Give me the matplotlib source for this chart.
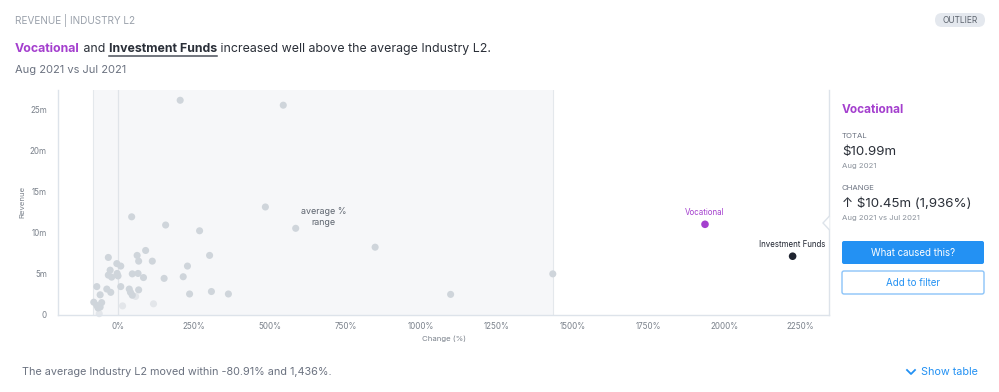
import matplotlib
matplotlib.use('Agg')
from matplotlib import pyplot as plt
from matplotlib.patches import FancyBboxPatch, Polygon

plt.rcParams['font.family'] = ['Inter', 'DejaVu Sans']

# industries inside the average range (change %, revenue in m)
change_pct = [205, 545, 486, 586, 45, 157, 269, 91, 63, 302, -32, -4, 9, 68, 113, 229,
              -26, -32, -21, -3, 0, 47, 66, 84, 152, 215, -70, -37, -24, 9, 37, 41, 47,
              68, -59, 236, 308, 364, -80, -70, -59, -54, -66, 848, 1097, 1434]
revenue_m = [26.1, 25.5, 13.1, 10.5, 11.9, 10.9, 10.2, 7.8, 7.2, 7.2, 6.95, 6.2, 5.9, 6.5, 6.5, 5.9,
             5.4, 4.8, 4.55, 5.0, 4.7, 4.95, 5.0, 4.5, 4.4, 4.6, 3.4, 3.1, 2.7, 3.4, 3.1, 2.7, 2.35,
             3.0, 2.4, 2.5, 2.8, 2.5, 1.5, 1.1, 0.9, 1.45, 0.8, 8.2, 2.45, 4.95]
# fainter points
faded_pct = [58, 15, 117, -62]
faded_rev = [2.2, 1.05, 1.3, 0.1]

# outliers
outlier_names = ['Vocational', 'Investment Funds']
outlier_pct = [1936, 2225]
outlier_rev = [10.99, 7.1]
outlier_colors = ['#a43fce', '#1f2430']

avg_low = -80.91
avg_high = 1436

x_ticks = [0, 250, 500, 750, 1000, 1250, 1500, 1750, 2000, 2250]
y_ticks = [0, 5, 10, 15, 20, 25]
y_labels = ['0', '5m', '10m', '15m', '20m', '25m']

W, H = 999, 392
fig = plt.figure(figsize=(W / 100, H / 100), dpi=100)

def fx(px):
    return px / W

def fy(py):
    return 1 - py / H

ax = fig.add_axes([fx(58), fy(314.5), fx(829) - fx(58), fy(90) - fy(314.5)])
ax.set_xlim(-198, 2345)
ax.set_ylim(0, 27.35)

ax.axvspan(avg_low, avg_high, facecolor='#f6f7f9', edgecolor='none', zorder=0)
ax.axvline(avg_low, color='#e4e8ec', lw=0.8, zorder=1)
ax.axvline(avg_high, color='#e4e8ec', lw=0.8, zorder=1)
ax.axvline(0, color='#e0e4e9', lw=0.9, zorder=1)

ax.scatter(change_pct, revenue_m, s=26, color='#cfd5db', edgecolors='none', zorder=3, clip_on=False)
ax.scatter(faded_pct, faded_rev, s=26, color='#e3e6ea', edgecolors='none', zorder=2, clip_on=False)
for name, x, y, c in zip(outlier_names, outlier_pct, outlier_rev, outlier_colors):
    ax.scatter([x], [y], s=30, color=c, edgecolors='none', zorder=4)
    ax.annotate(name, (x, y), xytext=(0, 5), textcoords='offset points', ha='center',
                va='bottom', fontsize=5.7, color=c)

ax.text((avg_low + avg_high) / 2, 11.9, 'average %\nrange', ha='center', va='center',
        fontsize=6.4, color='#5f6670', linespacing=1.35)

ax.spines['top'].set_visible(False)
for s in ['left', 'bottom', 'right']:
    ax.spines[s].set_color('#dde3ea')
    ax.spines[s].set_linewidth(1)

ax.set_xticks(x_ticks)
ax.set_xticklabels([f'{t}%' for t in x_ticks])
ax.set_yticks(y_ticks)
ax.set_yticklabels(y_labels)
ax.tick_params(length=0, labelsize=5.8, colors='#7a818b')
ax.tick_params(axis='x', pad=5.5)
ax.tick_params(axis='y', pad=8)
ax.set_xlabel('Change (%)', fontsize=5.6, color='#7a818b', labelpad=3.5)
ax.set_ylabel('Revenue', fontsize=5.6, color='#7a818b', labelpad=3.5)

# overlay in pixel coordinates for the surrounding card
ov = fig.add_axes([0, 0, 1, 1], zorder=5)
ov.set_xlim(0, W)
ov.set_ylim(H, 0)
ov.axis('off')
ov.patch.set_alpha(0)

# tooltip caret on the panel border
ov.add_patch(Polygon([[829.5, 216], [823, 223], [829.5, 230]], closed=False,
                     facecolor='white', edgecolor='#dde3ea', lw=1))

# header
ov.text(15, 20, 'REVENUE | INDUSTRY L2', fontsize=7.2, color='#9aa1ab', va='center')
fig.canvas.draw()
renderer = fig.canvas.get_renderer()
x = 15
parts = [('Vocational', 'bold', '#a43fce'), (' and ', 'normal', '#2a2f38'),
         ('Investment Funds', 'bold', '#2a2f38'),
         (' increased well above the average Industry L2.', 'normal', '#2a2f38')]
for txt, wt, c in parts:
    t = ov.text(x, 52, txt, fontsize=8.9, fontweight=wt, color=c, va='baseline')
    bb = t.get_window_extent(renderer)
    if txt == 'Investment Funds':
        ov.plot([x, x + bb.width], [55.5, 55.5], color='#4a505a', lw=1.1)
    x += bb.width
ov.text(15, 70, 'Aug 2021 vs Jul 2021', fontsize=8, color='#6b7280', va='center')

ov.add_patch(FancyBboxPatch((935, 13), 50, 14, boxstyle='round,pad=0,rounding_size=7',
                            facecolor='#e4e8ee', edgecolor='none'))
ov.text(960, 20.5, 'OUTLIER', fontsize=6, color='#5b626c', ha='center', va='center')

# side panel
ov.text(842, 110, 'Vocational', fontsize=8.5, fontweight='bold', color='#a43fce', va='center')
ov.text(842, 136, 'TOTAL', fontsize=5.6, color='#6b7280', va='center')
ov.text(842, 152, '$10.99m', fontsize=9.6, color='#2a2f38', va='center')
ov.text(842, 166, 'Aug 2021', fontsize=5.6, color='#8a919b', va='center')
ov.text(842, 188, 'CHANGE', fontsize=5.6, color='#6b7280', va='center')
ov.text(842, 204, '\u2191 $10.45m (1,936%)', fontsize=9.6, color='#2a2f38', va='center')
ov.text(842, 218, 'Aug 2021 vs Jul 2021', fontsize=5.6, color='#8a919b', va='center')

ov.add_patch(FancyBboxPatch((842, 241), 142, 23, boxstyle='round,pad=0,rounding_size=2',
                            facecolor='#2391f3', edgecolor='none'))
ov.text(913, 252.5, 'What caused this?', fontsize=7, color='white', ha='center', va='center')
ov.add_patch(FancyBboxPatch((842, 271), 142, 23, boxstyle='round,pad=0,rounding_size=2',
                            facecolor='white', edgecolor='#8cc4f8', lw=1))
ov.text(913, 282.5, 'Add to filter', fontsize=7, color='#2391f3', ha='center', va='center')

# footer
ov.text(22, 372, 'The average Industry L2 moved within -80.91% and 1,436%.', fontsize=7.8,
        color='#6b7280', va='center')
ov.text(978, 372, 'Show table', fontsize=7.8, color='#2391f3', ha='right', va='center')
ov.plot([907, 911, 915], [370, 374, 370], color='#2391f3', lw=1.3)

plt.savefig('out.png', dpi=100)
